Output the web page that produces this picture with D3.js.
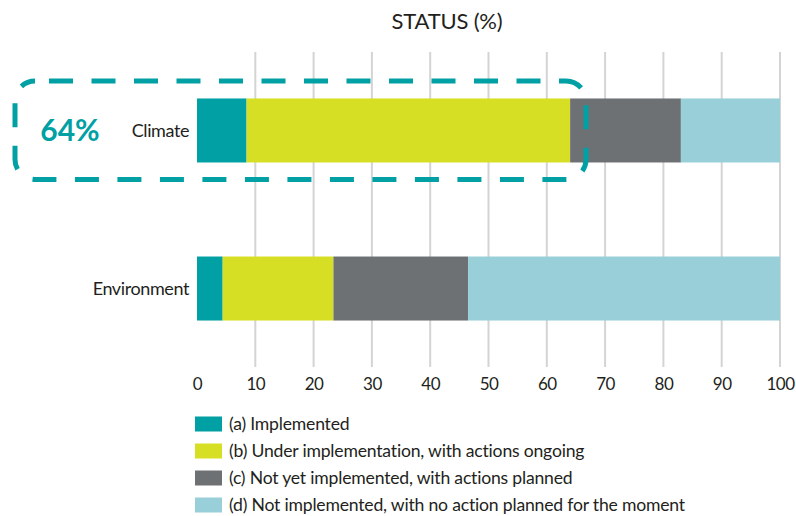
<!DOCTYPE html>
<html>
<head>
<meta charset="utf-8">
<script src="https://cdn.jsdelivr.net/npm/d3@7"></script>
<style>
  html, body { margin: 0; padding: 0; background: #ffffff; }
  svg { display: block; }
  text { font-family: Lato, "Liberation Sans", sans-serif; fill: #231f20; }
</style>
</head>
<body>
<svg id="chart" width="796" height="516"></svg>
<script>
// Policy areas (one stacked bar each)
const categories = ["Climate", "Environment"];

// Status shares in percent, per category
const implemented   = [8.5, 4.4];
const underway      = [55.5, 19.0];
const planned       = [19.0, 23.1];
const notPlanned    = [17.0, 53.5];

const statusLabels = [
  "(a) Implemented",
  "(b) Under implementation, with actions ongoing",
  "(c) Not yet implemented, with actions planned",
  "(d) Not implemented, with no action planned for the moment"
];
const statusColors = ["#00a0a4", "#d6df23", "#6e7174", "#98cfd8"];

const xTicks = [0, 10, 20, 30, 40, 50, 60, 70, 80, 90, 100];
const highlightText = "64%";
const titleText = "STATUS (%)";

const svg = d3.select("#chart");

const x = d3.scaleLinear().domain([0, 100]).range([197, 780]);
const y = d3.scaleBand().domain(categories).range([52, 367])
  .paddingInner(0.595).paddingOuter(0.294);

// Title
svg.append("text")
  .attr("x", 447).attr("y", 29)
  .attr("text-anchor", "middle")
  .style("font-size", "22px")
  .style("letter-spacing", "-0.2px")
  .text(titleText);

// Vertical grid lines
svg.append("g")
  .selectAll("line")
  .data(xTicks.filter(t => t > 0))
  .join("line")
  .attr("x1", d => x(d)).attr("x2", d => x(d))
  .attr("y1", 52).attr("y2", 367)
  .attr("stroke", "#d4d4d4")
  .attr("stroke-width", 2);

// Stacked bars
const rows = categories.map((c, i) => ({
  category: c,
  a: implemented[i], b: underway[i], c: planned[i], d: notPlanned[i]
}));
const keys = ["a", "b", "c", "d"];
const stacked = d3.stack().keys(keys)(rows);

svg.append("g")
  .selectAll("g")
  .data(stacked)
  .join("g")
  .attr("fill", (d, i) => statusColors[i])
  .selectAll("rect")
  .data(d => d)
  .join("rect")
  .attr("x", d => x(d[0]))
  .attr("width", d => x(d[1]) - x(d[0]))
  .attr("y", d => y(d.data.category))
  .attr("height", y.bandwidth());

// Category labels
svg.append("g")
  .selectAll("text")
  .data(categories)
  .join("text")
  .attr("x", 189)
  .attr("y", d => y(d) + y.bandwidth() / 2)
  .attr("dy", "0.35em")
  .attr("text-anchor", "end")
  .style("font-size", "18px")
  .style("letter-spacing", "-0.4px")
  .text(d => d);

// X axis tick labels
const xAxis = d3.axisBottom(x).tickValues(xTicks).tickSize(0).tickPadding(0);
const axisG = svg.append("g").attr("transform", "translate(0,378)").call(xAxis);
axisG.select(".domain").remove();
axisG.selectAll("text")
  .attr("dy", "0.71em")
  .style("font-family", "Lato, 'Liberation Sans', sans-serif")
  .style("font-size", "17px")
  .style("letter-spacing", "-0.5px")
  .attr("fill", "#231f20");

// Highlight frame around the first bar
svg.append("rect")
  .attr("x", 15).attr("y", 81)
  .attr("width", 571).attr("height", 98.5)
  .attr("rx", 20).attr("ry", 20)
  .attr("fill", "none")
  .attr("stroke", "#00a0a4")
  .attr("stroke-width", 5)
  .attr("stroke-dasharray", "24 18.5")
  .attr("stroke-dashoffset", 28.5);

svg.append("text")
  .attr("x", 70).attr("y", y("Climate") + y.bandwidth() / 2)
  .attr("dy", "0.36em")
  .attr("text-anchor", "middle")
  .style("font-size", "30px")
  .style("font-weight", "700")
  .style("fill", "#00a0a4")
  .text(highlightText);

// Legend
const legend = svg.append("g")
  .selectAll("g")
  .data(statusLabels)
  .join("g")
  .attr("transform", (d, i) => `translate(195,${424 + i * 27})`);

legend.append("rect")
  .attr("x", 0).attr("y", -7.5)
  .attr("width", 27).attr("height", 15)
  .attr("fill", (d, i) => statusColors[i]);

legend.append("text")
  .attr("x", 34).attr("y", 0)
  .attr("dy", "0.35em")
  .style("font-size", "17.6px")
  .style("letter-spacing", "-0.2px")
  .text(d => d);
</script>
</body>
</html>
